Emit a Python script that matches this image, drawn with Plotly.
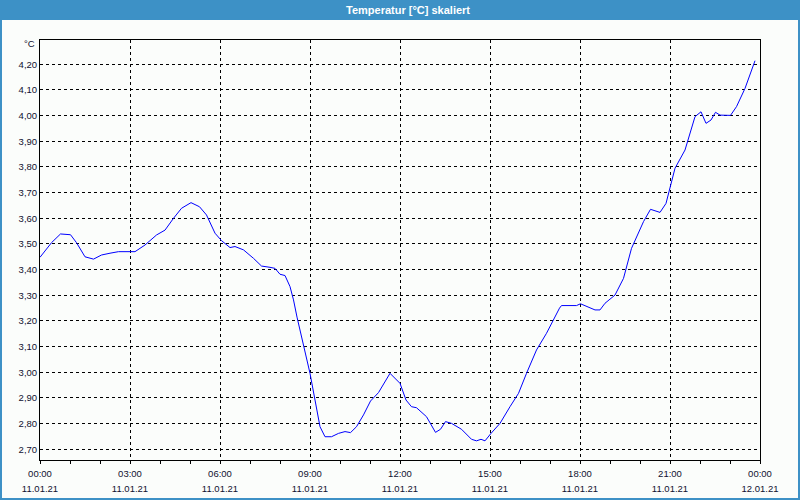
import plotly.graph_objects as go
import pandas as pd

# Data (time of day on 11.01.21, temperature °C)
times = ["00:00", "00:23", "00:41", "01:01", "01:13", "01:30", "01:47", "02:03", "02:20", "02:37",
         "03:10", "03:30", "03:53", "04:10", "04:27", "04:43", "05:02", "05:19", "05:33", "05:50",
         "06:03", "06:20", "06:30", "06:47", "07:07", "07:23", "07:40", "07:50", "08:00", "08:10",
         "08:20", "08:27", "08:34", "08:47", "09:00", "09:10", "09:20", "09:30", "09:43", "09:57",
         "10:10", "10:21", "10:33", "10:47", "11:01", "11:17", "11:40", "12:00", "12:12", "12:23",
         "12:33", "12:53", "13:11", "13:21", "13:31", "13:43", "14:03", "14:23", "14:33", "14:42",
         "14:50", "15:02", "15:20", "15:40", "15:57", "16:13", "16:33", "16:53", "17:06", "17:19",
         "17:23", "17:53", "18:01", "18:30", "18:40", "18:50", "19:10", "19:27", "19:43", "20:07",
         "20:21", "20:40", "20:52", "21:00", "21:10", "21:30", "21:50", "22:02", "22:12", "22:22",
         "22:31", "22:40", "23:01", "23:13", "23:30", "23:50"]
temps = [3.448, 3.505, 3.539, 3.536, 3.505, 3.450, 3.441, 3.457, 3.464, 3.470,
         3.470, 3.496, 3.535, 3.554, 3.600, 3.639, 3.661, 3.645, 3.613, 3.542,
         3.513, 3.486, 3.490, 3.477, 3.444, 3.414, 3.409, 3.405, 3.382, 3.377,
         3.334, 3.282, 3.215, 3.100, 2.996, 2.892, 2.788, 2.749, 2.749, 2.762,
         2.769, 2.765, 2.788, 2.834, 2.888, 2.921, 2.996, 2.957, 2.892, 2.866,
         2.862, 2.827, 2.766, 2.778, 2.808, 2.801, 2.778, 2.739, 2.733, 2.739,
         2.733, 2.762, 2.801, 2.866, 2.918, 2.996, 3.087, 3.152, 3.204, 3.250,
         3.260, 3.260, 3.267, 3.243, 3.243, 3.269, 3.301, 3.366, 3.483, 3.587,
         3.635, 3.623, 3.658, 3.717, 3.795, 3.866, 3.996, 4.015, 3.970, 3.983,
         4.013, 4.002, 4.001, 4.035, 4.106, 4.214]

date = "2021-01-11"
tick_hours = ["00:00", "03:00", "06:00", "09:00", "12:00", "15:00", "18:00", "21:00", "00:00"]
tick_dates = ["11.01.21"] * 8 + ["12.01.21"]
title_text = "Temperatur [°C] skaliert"
unit_text = "°C"

x = pd.to_datetime([f"{date} {t}" for t in times])
tickvals = list(pd.date_range(f"{date} 00:00", periods=9, freq="3h"))
x_range = [f"{date} 00:00", "2021-01-12 00:00"]

FONT = "Liberation Sans"
FS = 9.5
TXT = "#101030"
BLUE_BAR = "#3d91c6"
BG = "#fbfdfb"

fig = go.Figure()
fig.add_trace(go.Scatter(x=x, y=temps, mode="lines",
                         line=dict(color="#0000ff", width=1), hoverinfo="skip"))
# invisible helper trace so the second (date-label) axis is drawn
fig.add_trace(go.Scatter(x=[x[0]], y=[temps[0]], xaxis="x2", mode="lines",
                         line=dict(width=0), hoverinfo="skip", showlegend=False))

W, H = 800, 500
L, R, T, B = 40, 40, 40, 40
pw, ph = W - L - R, H - T - B

def px(xp):
    return (xp - L) / pw

def py(yp):
    return 1 - (yp - T) / ph

fig.update_layout(
    width=W, height=H,
    margin=dict(l=L, r=R, t=T, b=B, autoexpand=False),
    paper_bgcolor=BG, plot_bgcolor=BG,
    showlegend=False,
    separators=",.",
    font=dict(family=FONT, size=FS, color=TXT),
    xaxis=dict(
        type="date", range=x_range, automargin=False,
        tickvals=tickvals, ticktext=tick_hours,
        showgrid=True, gridcolor="black", gridwidth=1, griddash="3px,3px",
        showline=True, linecolor="black", linewidth=1, mirror=True,
        ticks="outside", ticklen=3, tickcolor="black",
        minor=dict(dtick=3600000, ticks="outside", ticklen=3, tickcolor="black", showgrid=False),
        zeroline=False, ticklabelstandoff=2,
        tickfont=dict(family=FONT, size=FS, color=TXT),
    ),
    xaxis2=dict(
        type="date", range=x_range, overlaying="x", anchor="y", side="bottom",
        automargin=False,
        tickvals=tickvals, ticktext=tick_dates,
        showgrid=False, showline=False, ticks="", zeroline=False,
        ticklabelstandoff=21,
        tickfont=dict(family=FONT, size=FS, color=TXT),
    ),
    yaxis=dict(
        range=[2.6583, 4.2947], automargin=False,
        tick0=2.7, dtick=0.1, tickformat=".2f",
        showgrid=True, gridcolor="black", gridwidth=1, griddash="3px,3px",
        showline=True, linecolor="black", linewidth=1, mirror=True,
        ticks="", zeroline=False,
        tickfont=dict(family=FONT, size=FS, color=TXT),
    ),
    shapes=[
        dict(type="rect", xref="paper", yref="paper",
             x0=px(0), x1=px(W), y0=py(0), y1=py(20),
             fillcolor=BLUE_BAR, line=dict(width=0), layer="above"),
        dict(type="rect", xref="paper", yref="paper",
             x0=px(1), x1=px(W - 1), y0=py(H - 1), y1=py(1),
             fillcolor="rgba(0,0,0,0)", line=dict(color=BLUE_BAR, width=2), layer="above"),
    ],
    annotations=[
        dict(text=f"<b>{title_text}</b>", x=px(408), y=py(10), xref="paper", yref="paper",
             showarrow=False, xanchor="center", yanchor="middle",
             font=dict(family=FONT, size=11, color="white")),
        dict(text=unit_text, x=px(37), y=py(44), xref="paper", yref="paper",
             showarrow=False, xanchor="right", yanchor="middle",
             font=dict(family=FONT, size=FS, color=TXT)),
    ],
)

fig.write_html("out.html")
